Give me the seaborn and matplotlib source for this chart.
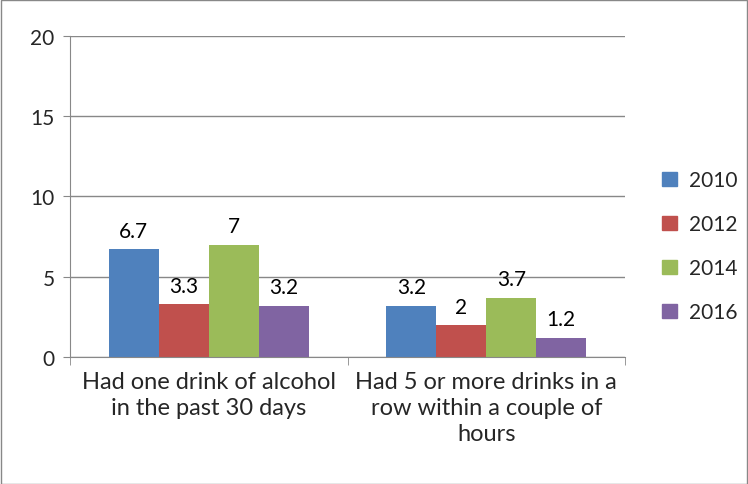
import matplotlib
matplotlib.use("Agg")
import matplotlib.pyplot as plt
import seaborn as sns
import pandas as pd
from matplotlib.patches import Rectangle

# =====================================================
# Data
# =====================================================

categories = [
    "Had one drink of alcohol\nin the past 30 days",
    "Had 5 or more drinks in a\nrow within a couple of\nhours",
]
years = ["2010", "2012", "2014", "2016"]
values = {
    "2010": [6.7, 3.2],
    "2012": [3.3, 2.0],
    "2014": [7.0, 3.7],
    "2016": [3.2, 1.2],
}
labels = {
    "2010": ["6.7", "3.2"],
    "2012": ["3.3", "2"],
    "2014": ["7", "3.7"],
    "2016": ["3.2", "1.2"],
}
colors = ["#4F81BD", "#C0504D", "#9BBB59", "#8064A2"]

rows = []
for y in years:
    for c, v in zip(categories, values[y]):
        rows.append({"category": c, "year": y, "value": v})
df = pd.DataFrame(rows)

# =====================================================
# Plot
# =====================================================

sns.set_style("white")
plt.rcParams["font.family"] = ["Lato", "DejaVu Sans"]

fig = plt.figure(figsize=(7.48, 4.85), dpi=100)
ax = fig.add_axes([0.0936, 0.2619, 0.742, 0.662])

sns.barplot(
    data=df,
    x="category",
    y="value",
    hue="year",
    order=categories,
    hue_order=years,
    palette=colors,
    width=0.72,
    saturation=1,
    linewidth=0,
    ax=ax,
    legend=False,
)

for cont, y in zip(ax.containers, years):
    ax.bar_label(cont, labels=labels[y], padding=6, fontsize=15, color="black")

ax.set_ylim(0, 20)
ax.set_yticks([0, 5, 10, 15, 20])
ax.set_xlim(-0.5, 1.5)
ax.yaxis.grid(True, color="#888888", linewidth=1)
ax.set_axisbelow(True)
ax.set_xlabel("")
ax.set_ylabel("")

for side in ["top", "right"]:
    ax.spines[side].set_visible(False)
ax.spines["left"].set_color("#888888")
ax.spines["bottom"].set_color("#888888")

ax.tick_params(axis="y", labelsize=15, length=5, color="#888888", left=True, pad=6)
ax.tick_params(axis="x", labelsize=17, length=0, pad=10)
for t in ax.get_xticklabels():
    t.set_linespacing(1.3)

# category boundary ticks
ax.set_xticks([-0.5, 0.5, 1.5], minor=True)
ax.tick_params(axis="x", which="minor", length=6, color="#888888", bottom=True)

# legend
handles = [Rectangle((0, 0), 1, 1, color=c) for c in colors]
fig.legend(
    handles,
    years,
    loc="center left",
    bbox_to_anchor=(0.86, 0.49),
    frameon=False,
    fontsize=15,
    handlelength=0.7,
    handleheight=0.7,
    labelspacing=1.15,
    handletextpad=0.6,
)

# outer border
fig.patches.append(
    Rectangle((0.001, 0.001), 0.997, 0.997, transform=fig.transFigure,
              fill=False, edgecolor="#888888", linewidth=1)
)

fig.savefig("out.png", dpi=100)
